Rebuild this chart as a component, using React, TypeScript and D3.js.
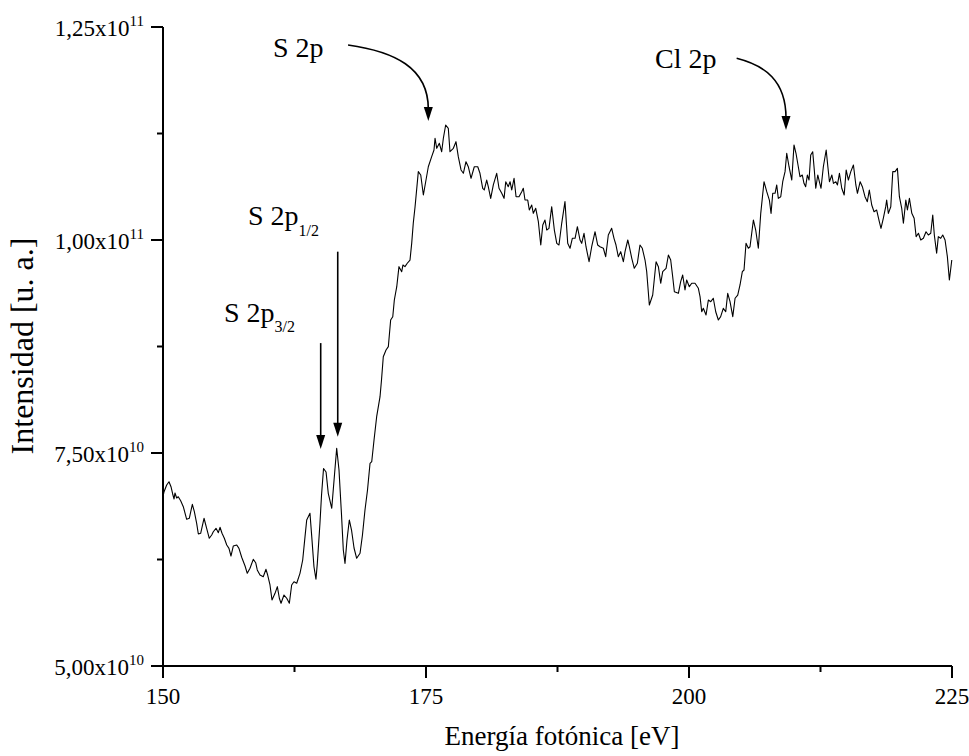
import React from "react";
import * as d3 from "d3";

// Photon energy [eV]
const energy = [
  150.02, 150.10, 150.35, 150.57, 150.76, 150.92, 151.05, 151.14, 151.30, 151.45, 151.68, 151.93,
  152.25, 152.50, 152.79, 152.98, 153.20, 153.36, 153.58, 153.90, 154.15, 154.40, 154.63, 154.78,
  155.04, 155.26, 155.42, 155.61, 155.83, 156.06, 156.27, 156.46, 156.68, 157.01, 157.22, 157.48,
  157.80, 158.01, 158.27, 158.58, 158.81, 158.96, 159.22, 159.53, 159.79, 159.95, 160.17, 160.36,
  160.65, 160.87, 161.06, 161.22, 161.50, 161.76, 162.01, 162.23, 162.45, 162.71, 163.02, 163.28,
  163.50, 163.66, 163.97, 164.14, 164.35, 164.54, 164.67, 164.92, 165.07, 165.26, 165.50, 165.71,
  166.04, 166.30, 166.51, 166.73, 166.97, 167.14, 167.30, 167.49, 167.71, 167.92, 168.16, 168.41,
  168.73, 168.96, 169.20, 169.44, 169.68, 169.84, 170.06, 170.31, 170.63, 170.77, 170.94, 171.20,
  171.42, 171.64, 171.84, 171.99, 172.22, 172.43, 172.69, 172.81, 173.00, 173.22, 173.48, 173.64,
  173.79, 173.96, 174.27, 174.50, 174.75, 175.00, 175.22, 175.54, 175.76, 175.86, 176.02, 176.27,
  176.49, 176.65, 176.87, 177.12, 177.28, 177.60, 177.85, 178.07, 178.33, 178.55, 178.80, 179.02,
  179.28, 179.59, 179.92, 180.13, 180.39, 180.54, 180.77, 180.92, 181.15, 181.40, 181.72, 181.94,
  182.20, 182.42, 182.58, 182.82, 182.99, 183.15, 183.37, 183.56, 183.84, 184.10, 184.25, 184.41,
  184.67, 184.82, 185.05, 185.20, 185.43, 185.68, 185.91, 186.10, 186.31, 186.48, 186.69, 186.95,
  187.20, 187.43, 187.64, 187.90, 188.21, 188.47, 188.69, 188.91, 189.17, 189.39, 189.64, 189.80,
  190.02, 190.21, 190.50, 190.75, 191.07, 191.32, 191.54, 191.86, 192.08, 192.33, 192.65, 192.87,
  193.06, 193.28, 193.51, 193.76, 193.92, 194.18, 194.33, 194.56, 194.80, 195.09, 195.34, 195.56,
  195.82, 195.98, 196.23, 196.55, 196.87, 197.09, 197.31, 197.50, 197.82, 198.04, 198.26, 198.45,
  198.61, 198.99, 199.21, 199.40, 199.62, 199.78, 200.03, 200.26, 200.57, 200.89, 201.05, 201.21,
  201.36, 201.62, 201.84, 202.07, 202.31, 202.54, 202.79, 203.01, 203.26, 203.49, 203.68, 203.90,
  204.16, 204.38, 204.63, 204.85, 205.07, 205.23, 205.42, 205.64, 205.80, 206.12, 206.34, 206.59,
  206.82, 207.13, 207.39, 207.64, 207.80, 207.96, 208.18, 208.34, 208.49, 208.72, 208.91, 209.13,
  209.29, 209.51, 209.77, 209.98, 210.17, 210.39, 210.55, 210.77, 210.93, 211.09, 211.25, 211.41,
  211.57, 211.76, 211.91, 212.05, 212.24, 212.39, 212.55, 212.77, 213.04, 213.20, 213.35, 213.58,
  213.73, 213.96, 214.11, 214.30, 214.52, 214.75, 214.94, 215.15, 215.38, 215.63, 215.86, 216.01,
  216.27, 216.48, 216.73, 216.95, 217.14, 217.37, 217.59, 217.84, 218.09, 218.25, 218.47, 218.70,
  218.79, 218.95, 219.18, 219.37, 219.59, 219.81, 220.00, 220.22, 220.38, 220.61, 220.76, 220.95,
  221.18, 221.40, 221.59, 221.81, 222.03, 222.28, 222.53, 222.75, 222.98, 223.17, 223.32, 223.54,
  223.70, 223.93, 224.12, 224.34, 224.56, 224.75, 224.98,
];

// Intensity [u. a.] in units of 1e10
const intensity = [
  7.000, 7.046, 7.124, 7.163, 7.104, 7.019, 6.960, 7.031, 6.972, 6.987, 6.940, 6.870,
  6.722, 6.734, 6.898, 6.811, 6.675, 6.549, 6.558, 6.734, 6.616, 6.499, 6.538, 6.576,
  6.616, 6.565, 6.628, 6.558, 6.499, 6.420, 6.381, 6.291, 6.408, 6.420, 6.381, 6.276,
  6.174, 6.088, 6.147, 6.252, 6.212, 6.127, 6.068, 6.048, 6.135, 6.068, 5.951, 5.775,
  5.853, 5.931, 5.795, 5.736, 5.833, 5.795, 5.736, 5.951, 5.989, 5.971, 6.088, 6.244,
  6.518, 6.714, 6.792, 6.518, 6.165, 6.018, 6.205, 6.675, 7.007, 7.318, 7.277, 7.027,
  6.851, 7.242, 7.555, 7.300, 6.772, 6.361, 6.205, 6.479, 6.714, 6.596, 6.385, 6.264,
  6.323, 6.538, 6.831, 7.066, 7.379, 7.398, 7.653, 7.926, 8.161, 8.357, 8.630, 8.709,
  8.748, 9.061, 9.100, 9.296, 9.452, 9.687, 9.628, 9.707, 9.687, 9.727, 9.765, 9.961,
  10.196, 10.391, 10.802, 10.763, 10.528, 10.704, 10.860, 10.978, 11.056, 11.194, 11.076, 11.135,
  11.036, 11.194, 11.350, 11.311, 11.036, 11.076, 11.154, 10.978, 10.822, 10.783, 10.919, 10.860,
  10.724, 10.860, 10.860, 10.783, 10.607, 10.587, 10.704, 10.626, 10.489, 10.646, 10.783, 10.607,
  10.548, 10.489, 10.684, 10.626, 10.684, 10.587, 10.724, 10.508, 10.508, 10.567, 10.607, 10.469,
  10.469, 10.352, 10.411, 10.313, 10.372, 10.215, 9.941, 10.176, 10.235, 10.117, 10.137, 10.391,
  10.117, 9.961, 9.941, 10.196, 10.450, 9.961, 9.903, 10.020, 10.020, 10.156, 10.000, 9.961,
  10.079, 9.921, 9.745, 9.921, 10.097, 9.941, 9.921, 9.903, 9.804, 10.059, 10.137, 10.020,
  9.941, 9.804, 9.863, 9.745, 9.863, 10.000, 9.921, 9.785, 9.668, 9.727, 9.941, 9.903,
  9.765, 9.628, 9.237, 9.354, 9.745, 9.687, 9.492, 9.628, 9.668, 9.824, 9.765, 9.569,
  9.393, 9.374, 9.511, 9.589, 9.413, 9.531, 9.452, 9.492, 9.492, 9.433, 9.335, 9.158,
  9.198, 9.120, 9.296, 9.276, 9.316, 9.158, 9.061, 9.100, 9.198, 9.158, 9.374, 9.276,
  9.100, 9.316, 9.354, 9.472, 9.628, 9.648, 9.961, 9.903, 9.921, 10.235, 10.117, 9.903,
  10.313, 10.684, 10.567, 10.469, 10.313, 10.548, 10.548, 10.646, 10.489, 10.508, 10.684, 10.802,
  11.018, 10.860, 10.704, 11.115, 11.018, 10.860, 10.743, 10.763, 10.665, 10.626, 10.763, 10.704,
  10.998, 11.036, 10.822, 10.607, 10.763, 10.684, 10.607, 10.860, 11.056, 10.860, 10.684, 10.763,
  10.665, 10.684, 10.646, 10.783, 10.607, 10.528, 10.822, 10.704, 10.802, 10.880, 10.646, 10.548,
  10.684, 10.626, 10.508, 10.450, 10.587, 10.411, 10.332, 10.352, 10.215, 10.137, 10.255, 10.391,
  10.469, 10.313, 10.391, 10.802, 10.802, 10.841, 10.508, 10.372, 10.196, 10.469, 10.352, 10.489,
  10.313, 10.255, 10.039, 10.079, 10.000, 10.020, 10.097, 10.059, 10.079, 10.293, 10.059, 9.844,
  10.039, 10.020, 10.059, 10.000, 9.804, 9.531, 9.765,
];

const xMajorTicks = [150, 175, 200, 225];
const xMinorTicks = [162.5, 187.5, 212.5];
const yMajorTicks = [5, 7.5, 10, 12.5];
const yMinorTicks = [6.25, 8.75, 11.25];
const yTickMantissa = ["5,00x10", "7,50x10", "1,00x10", "1,25x10"];
const yTickExponent = ["10", "10", "11", "11"];

const xTitle = "Energía fotónica [eV]";
const yTitle = "Intensidad [u. a.]";

const W = 969;
const H = 756;
const FONT = "Liberation Serif, DejaVu Serif, serif";

export default function App() {
  const x = d3.scaleLinear().domain([150, 225]).range([163, 952]);
  const y = d3.scaleLinear().domain([5, 12.5]).range([666, 27]);

  const pts = energy.map((e, i) => [e, intensity[i]] as [number, number]);
  const line = d3
    .line<[number, number]>()
    .x((d) => x(d[0]))
    .y((d) => y(d[1]));

  const arrowHead = (tx: number, ty: number, len = 13, hw = 4.5) =>
    `M${tx},${ty} L${tx - hw},${ty - len} L${tx + hw},${ty - len} Z`;

  const straight = [
    { e: 164.99, from: 8.79, to: 7.547 },
    { e: 166.61, from: 9.863, to: 7.691 },
  ];

  const curved = [
    { s: [167.59, 12.289], t: [175.22, 11.397], c1: [0.57, 0.1], c2y: 0.35 },
    { s: [204.53, 12.133], t: [209.22, 11.291], c1: [0.57, 0.12], c2y: 0.37 },
  ];

  const txt = { fontFamily: FONT, fill: "#000" } as React.CSSProperties;

  return (
    <svg
      width={W}
      height={H}
      style={{ position: "absolute", left: 0, top: 0, display: "block", background: "#fff", fontFamily: FONT }}
    >
      <rect x={0} y={0} width={W} height={H} fill="#fff" />
      <path d={line(pts) || ""} fill="none" stroke="#000" strokeWidth={1.1} strokeLinejoin="round" />

      <line x1={x(150)} x2={x(225)} y1={y(5)} y2={y(5)} stroke="#000" strokeWidth={2} />
      <line x1={x(150)} x2={x(150)} y1={y(5)} y2={y(12.5)} stroke="#000" strokeWidth={2} />
      {xMajorTicks.map((t) => (
        <g key={"xm" + t}>
          <line x1={x(t)} x2={x(t)} y1={y(5)} y2={y(5) + 12} stroke="#000" strokeWidth={2} />
          <text x={x(t)} y={704} textAnchor="middle" fontSize={23} style={txt}>
            {t}
          </text>
        </g>
      ))}
      {xMinorTicks.map((t) => (
        <line key={"xn" + t} x1={x(t)} x2={x(t)} y1={y(5)} y2={y(5) + 6} stroke="#000" strokeWidth={2} />
      ))}
      {yMajorTicks.map((t, i) => (
        <g key={"ym" + t}>
          <line x1={x(150) - 12} x2={x(150)} y1={y(t)} y2={y(t)} stroke="#000" strokeWidth={2} />
          <text x={144} y={y(t) + 9} textAnchor="end" fontSize={23} style={txt}>
            <tspan>{yTickMantissa[i]}</tspan>
            <tspan dy={-10} fontSize={15}>
              {yTickExponent[i]}
            </tspan>
          </text>
        </g>
      ))}
      {yMinorTicks.map((t) => (
        <line key={"yn" + t} x1={x(150) - 6} x2={x(150)} y1={y(t)} y2={y(t)} stroke="#000" strokeWidth={2} />
      ))}

      <text x={562} y={745} textAnchor="middle" fontSize={27} style={txt}>
        {xTitle}
      </text>
      <text transform={`translate(33,346) rotate(-90)`} textAnchor="middle" fontSize={32} style={txt}>
        {yTitle}
      </text>

      <text x={x(160.46)} y={y(12.152)} fontSize={28} style={txt}>
        S 2p
      </text>
      <text x={x(196.77)} y={y(12.015)} fontSize={28} style={txt}>
        Cl 2p
      </text>
      <text x={x(158.08)} y={y(10.176)} fontSize={28} style={txt}>
        <tspan>S 2p</tspan>
        <tspan dy={11} fontSize={16}>
          1/2
        </tspan>
      </text>
      <text x={x(155.8)} y={y(9.041)} fontSize={28} style={txt}>
        <tspan>S 2p</tspan>
        <tspan dy={10} fontSize={16}>
          3/2
        </tspan>
      </text>

      {straight.map((a, i) => {
        const px = x(a.e);
        const y0 = y(a.from);
        const y1 = y(a.to);
        return (
          <g key={"sa" + i}>
            <line x1={px} x2={px} y1={y0} y2={y1 - 10} stroke="#000" strokeWidth={1.6} />
            <path d={arrowHead(px, y1, 14, 4.5)} fill="#000" />
          </g>
        );
      })}
      {curved.map((a, i) => {
        const sx = x(a.s[0]);
        const sy = y(a.s[1]);
        const tx = x(a.t[0]);
        const ty = y(a.t[1]);
        const ey = ty - 12;
        const dx = tx - sx;
        const dy = ey - sy;
        const d = `M${sx},${sy} C${sx + a.c1[0] * dx},${sy + a.c1[1] * dy} ${tx},${sy + a.c2y * dy} ${tx},${ey}`;
        return (
          <g key={"ca" + i}>
            <path d={d} fill="none" stroke="#000" strokeWidth={1.6} />
            <path d={arrowHead(tx, ty, 14, 4.5)} fill="#000" />
          </g>
        );
      })}
    </svg>
  );
}
